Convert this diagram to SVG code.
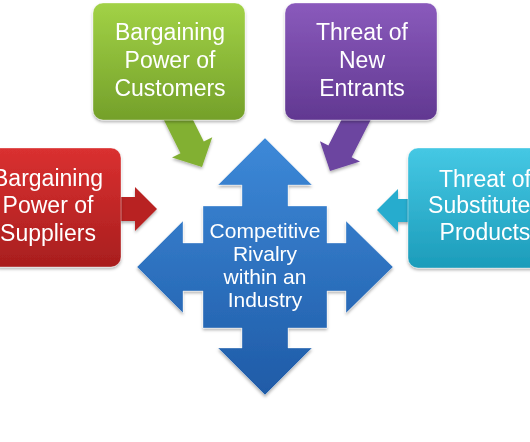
<svg xmlns="http://www.w3.org/2000/svg" width="530" height="442" viewBox="0 0 530 442">
<defs>
<linearGradient id="gRed" x1="0" y1="0" x2="0" y2="1"><stop offset="0" stop-color="#da3030"/><stop offset="1" stop-color="#a81e1e"/></linearGradient>
<linearGradient id="gGreen" x1="0" y1="0" x2="0" y2="1"><stop offset="0" stop-color="#a2d246"/><stop offset="1" stop-color="#74a02a"/></linearGradient>
<linearGradient id="gPurple" x1="0" y1="0" x2="0" y2="1"><stop offset="0" stop-color="#8a5abc"/><stop offset="1" stop-color="#613891"/></linearGradient>
<linearGradient id="gCyan" x1="0" y1="0" x2="0" y2="1"><stop offset="0" stop-color="#45c8e4"/><stop offset="1" stop-color="#1c9cba"/></linearGradient>
<linearGradient id="gBlue" x1="0" y1="0" x2="0" y2="1"><stop offset="0" stop-color="#3d89d8"/><stop offset="1" stop-color="#1f5ba7"/></linearGradient>
<filter id="sh" x="-20%" y="-20%" width="140%" height="140%"><feDropShadow dx="0" dy="2" stdDeviation="1.5" flood-color="#000" flood-opacity="0.3"/></filter>
</defs>
<style>
.lbl{font-family:"Liberation Sans",Arial,sans-serif;font-size:23px;fill:#fff;text-anchor:middle}
.clbl{font-family:"Liberation Sans",Arial,sans-serif;font-size:21px;fill:#fff;text-anchor:middle}
.edge{stroke:#ffffff;stroke-opacity:0.35;stroke-width:1}
</style>
<g id="connectors" filter="url(#sh)">
<path d="M110,197 L135,197 L135,187 L157,209 L135,231 L135,221 L110,221 Z" fill="#b82424"/>
<path transform="translate(202,167) rotate(-26.6)" d="M0,0 L-22.5,-22 L-13,-22 L-13,-65 L13,-65 L13,-22 L22.5,-22 Z" fill="#82b032"/>
<path transform="translate(330,171) rotate(27)" d="M0,0 L-22.5,-22 L-13,-22 L-13,-65 L13,-65 L13,-22 L22.5,-22 Z" fill="#6c44a0"/>
<path d="M415,199 L398,199 L398,189 L377,210 L398,232 L398,222 L415,222 Z" fill="#28acce"/>
</g>
<g id="suppliers" filter="url(#sh)">
<rect x="-10" y="148" width="131" height="119" rx="10" fill="url(#gRed)" class="edge"/>
<text class="lbl" x="48" y="186">Bargaining</text>
<text class="lbl" x="48" y="213">Power of</text>
<text class="lbl" x="48" y="241">Suppliers</text>
</g>
<g id="customers" filter="url(#sh)">
<rect x="93" y="3" width="152" height="117" rx="10" fill="url(#gGreen)" class="edge"/>
<text class="lbl" x="170" y="40">Bargaining</text>
<text class="lbl" x="170" y="68">Power of</text>
<text class="lbl" x="170" y="96">Customers</text>
</g>
<g id="entrants" filter="url(#sh)">
<rect x="285" y="3" width="152" height="117" rx="10" fill="url(#gPurple)" class="edge"/>
<text class="lbl" x="362" y="40">Threat of</text>
<text class="lbl" x="362" y="68">New</text>
<text class="lbl" x="362" y="96">Entrants</text>
</g>
<g id="substitutes" filter="url(#sh)">
<rect x="408" y="148" width="135" height="120" rx="10" fill="url(#gCyan)" class="edge"/>
<text class="lbl" x="485" y="187">Threat of</text>
<text class="lbl" x="485" y="213">Substitutes</text>
<text class="lbl" x="485" y="240">Products</text>
</g>
<g id="rivalry" filter="url(#sh)">
<path d="M265,138 L312,185 L288,185 L288,206 L327,206 L327,243 L346,243 L346,221 L393,267 L346,313 L346,291 L327,291 L327,328 L288,328 L288,348 L312,348 L265,395 L218,348 L242,348 L242,328 L203,328 L203,291 L183,291 L183,313 L137,267 L183,221 L183,243 L203,243 L203,206 L242,206 L242,185 L218,185 Z" fill="url(#gBlue)" class="edge"/>
<text class="clbl" x="265" y="238">Competitive</text>
<text class="clbl" x="265" y="261">Rivalry</text>
<text class="clbl" x="265" y="284">within an</text>
<text class="clbl" x="265" y="307">Industry</text>
</g>
</svg>
